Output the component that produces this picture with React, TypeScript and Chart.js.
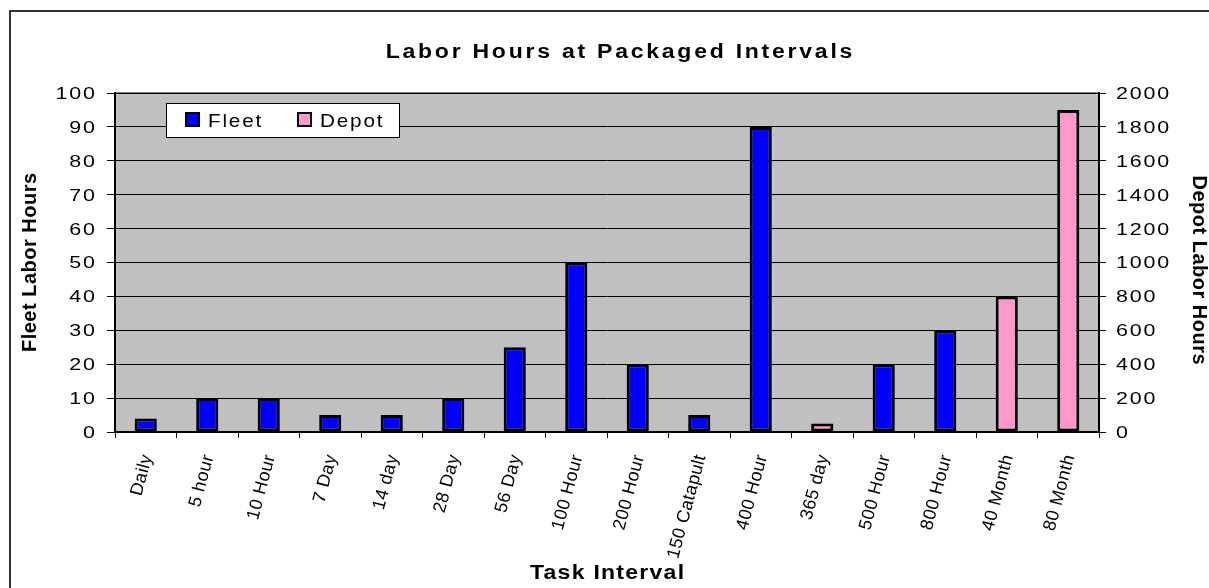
import React, { useEffect, useRef } from 'react';
import { Chart, registerables } from 'chart.js';

Chart.register(...registerables);

const chartTitle = 'Labor Hours at Packaged Intervals';
const xAxisTitle = 'Task Interval';
const leftAxisTitle = 'Fleet Labor Hours';
const rightAxisTitle = 'Depot Labor Hours';

const categories = [
  'Daily', '5 hour', '10 Hour', '7 Day', '14 day', '28 Day', '56 Day', '100 Hour',
  '200 Hour', '150 Catapult', '400 Hour', '365 day', '500 Hour', '800 Hour', '40 Month', '80 Month',
];
const fleetHours = [4, 10, 10, 5, 5, 10, 25, 50, 20, 5, 90, null, 20, 30, null, null];
const depotHours = [null, null, null, null, null, null, null, null, null, null, null, 50, null, null, 800, 1900];

const fleetMax = 100;
const fleetStep = 10;
const depotMax = 2000;
const depotStep = 200;

const FONT = '"Liberation Sans", Arial, sans-serif';

function drawSpaced(
  ctx: CanvasRenderingContext2D,
  text: string,
  x: number,
  y: number,
  size: number,
  bold: boolean,
  spacing: number,
  align: 'left' | 'right' | 'center',
  rotation = 0,
  middle = false,
  scaleX = 1,
) {
  ctx.save();
  ctx.font = `${bold ? 'bold ' : ''}${size}px ${FONT}`;
  (ctx as any).letterSpacing = '0px';
  const base = ctx.measureText(text).width;
  const n = Array.from(text).length;
  const w = base + (n - 1) * spacing;
  (ctx as any).letterSpacing = `${spacing}px`;
  ctx.translate(x, y);
  ctx.rotate(rotation);
  ctx.scale(scaleX, 1);
  ctx.textAlign = 'left';
  ctx.textBaseline = 'alphabetic';
  ctx.fillStyle = '#000';
  const dx = align === 'left' ? 0 : align === 'right' ? -w : -w / 2;
  const dy = middle ? size * 0.36 : 0;
  ctx.fillText(text, dx, dy);
  ctx.restore();
}

const decorPlugin = {
  id: 'decor',
  beforeDraw(chart: any) {
    const { ctx, chartArea: a } = chart;
    ctx.save();
    ctx.fillStyle = '#ffffff';
    ctx.fillRect(0, 0, chart.width, chart.height);
    ctx.strokeStyle = '#333333';
    ctx.lineWidth = 2;
    ctx.strokeRect(10, 11, chart.width + 50, chart.height + 50);
    ctx.fillStyle = '#c0c0c0';
    ctx.fillRect(a.left, a.top, a.right - a.left, a.bottom - a.top);
    ctx.strokeStyle = '#808080';
    ctx.lineWidth = 2;
    ctx.strokeRect(a.left, a.top, a.right - a.left, a.bottom - a.top);
    ctx.restore();
  },
  afterDraw(chart: any) {
    const { ctx, chartArea: a, scales } = chart;
    const y = scales.y;
    const y1 = scales.y1;
    const x = scales.x;
    drawSpaced(ctx, chartTitle, 619, 58, 20, true, 2.4, 'center', 0, false, 1.15);
    y.ticks.forEach((t: any) => {
      const py = y.getPixelForValue(t.value);
      drawSpaced(ctx, String(t.value), 95, py, 16.5, false, 1.4, 'right', 0, true, 1.3);
    });
    y1.ticks.forEach((t: any) => {
      const py = y1.getPixelForValue(t.value);
      drawSpaced(ctx, String(t.value), 1116, py, 16.5, false, 1.4, 'left', 0, true, 1.3);
    });
    categories.forEach((c, i) => {
      const px = x.getPixelForValue(i);
      drawSpaced(ctx, c, px, 455, 18, false, 0.4, 'right', (-75 * Math.PI) / 180, true);
    });
    drawSpaced(ctx, xAxisTitle, 607, 579, 20, true, 1.1, 'center', 0, false, 1.15);
    drawSpaced(ctx, leftAxisTitle, 36, (a.top + a.bottom) / 2, 20, true, 0.5, 'center', -Math.PI / 2);
    drawSpaced(ctx, rightAxisTitle, 1193, 270, 20, true, 0.5, 'center', Math.PI / 2);
    ctx.save();
    ctx.fillStyle = '#ffffff';
    ctx.fillRect(166, 103, 233, 34);
    ctx.strokeStyle = '#000000';
    ctx.lineWidth = 1;
    ctx.strokeRect(166.5, 103.5, 233, 34);
    const ds = chart.data.datasets;
    const items = [
      { sx: 186, tx: 208 },
      { sx: 298, tx: 320 },
    ];
    ds.forEach((d: any, i: number) => {
      const it = items[i];
      ctx.fillStyle = d.backgroundColor;
      ctx.fillRect(it.sx, 113, 13, 13);
      ctx.strokeStyle = '#000';
      ctx.lineWidth = 2;
      ctx.strokeRect(it.sx, 113, 13, 13);
      drawSpaced(ctx, d.label, it.tx, 127, 18.5, false, 1.6, 'left', 0, false, 1.12);
    });
    ctx.restore();
  },
};

export default function App() {
  const ref = useRef<HTMLCanvasElement | null>(null);
  useEffect(() => {
    document.body.style.margin = '0';
    const canvas = ref.current!;
    const chart = new Chart(canvas, {
      type: 'bar',
      data: {
        labels: categories,
        datasets: [
          {
            label: 'Fleet',
            data: fleetHours,
            yAxisID: 'y',
            backgroundColor: '#0000ff',
            borderColor: '#000000',
            borderWidth: 3,
            borderSkipped: false,
            grouped: false,
            categoryPercentage: 1,
            barPercentage: 0.36,
          } as any,
          {
            label: 'Depot',
            data: depotHours,
            yAxisID: 'y1',
            backgroundColor: '#ff99cc',
            borderColor: '#000000',
            borderWidth: 3,
            borderSkipped: false,
            grouped: false,
            categoryPercentage: 1,
            barPercentage: 0.36,
          } as any,
        ],
      },
      options: {
        responsive: false,
        animation: false,
        devicePixelRatio: 1,
        layout: { padding: { top: 93, left: 0, right: 0, bottom: 0 } },
        plugins: {
          legend: { display: false },
          title: { display: false },
          tooltip: { enabled: false },
        },
        scales: {
          x: {
            type: 'category',
            offset: true,
            ticks: { display: false },
            grid: {
              display: true,
              offset: true,
              drawOnChartArea: false,
              drawTicks: true,
              tickLength: 6,
              color: '#000000',
              lineWidth: 1,
            },
            border: { display: true, color: '#000000', width: 2 },
            afterFit: (s: any) => { s.height = 156; },
          },
          y: {
            position: 'left',
            min: 0,
            max: fleetMax,
            ticks: { display: false, stepSize: fleetStep },
            grid: {
              display: true,
              drawOnChartArea: true,
              drawTicks: true,
              tickLength: 8,
              color: '#000000',
              lineWidth: 1,
            },
            border: { display: true, color: '#000000', width: 2 },
            afterFit: (s: any) => { s.width = 115; },
          },
          y1: {
            position: 'right',
            min: 0,
            max: depotMax,
            ticks: { display: false, stepSize: depotStep },
            grid: {
              display: true,
              drawOnChartArea: false,
              drawTicks: true,
              tickLength: 7,
              color: '#000000',
              lineWidth: 1,
            },
            border: { display: true, color: '#000000', width: 2 },
            afterFit: (s: any) => { s.width = 110; },
          },
        },
      } as any,
      plugins: [decorPlugin],
    });
    return () => chart.destroy();
  }, []);
  return (
    <canvas
      ref={ref}
      width={1209}
      height={588}
      style={{ display: 'block', width: '1209px', height: '588px' }}
    />
  );
}
